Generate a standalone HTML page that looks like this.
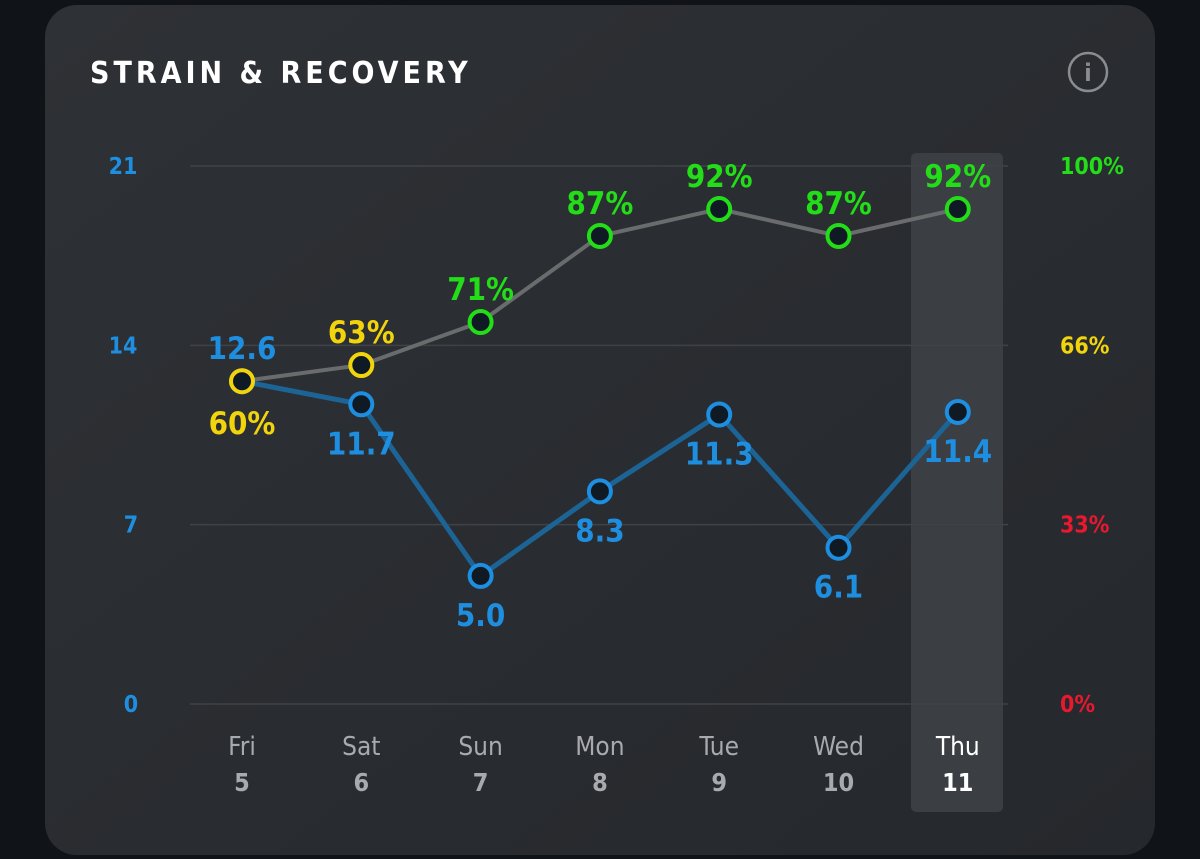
<!DOCTYPE html>
<html><head><meta charset="utf-8"><style>
html,body{margin:0;padding:0;background:#101318;width:1200px;height:859px;overflow:hidden}
svg{display:block}
text{font-family:"DejaVu Sans Condensed","Liberation Sans",sans-serif}
</style></head><body>
<svg width="1200" height="859">
<defs><linearGradient id="cg" x1="0" y1="0" x2="1" y2="1"><stop offset="0" stop-color="#2e3135"/><stop offset="1" stop-color="#25282c"/></linearGradient></defs>
<rect x="45" y="5" width="1110" height="850" rx="32" fill="url(#cg)"/>
<text x="90" y="83" fill="#fff" font-size="30" font-weight="bold" letter-spacing="4" font-family="Liberation Sans">STRAIN &amp; RECOVERY</text>
<g><circle cx="1088" cy="72" r="19" fill="none" stroke="#8a8c90" stroke-width="2.5"/><text x="1088" y="81" fill="#8a8c90" font-size="24" font-weight="bold" text-anchor="middle" font-family="Liberation Serif">i</text></g>
<rect x="911" y="153" width="92" height="659" rx="5" fill="#3b3e43"/>
<g id="grid"></g><g id="axes"></g><g id="lines"></g><g id="marks"></g>
</svg>
<script>
const days=["Fri","Sat","Sun","Mon","Tue","Wed","Thu"];
const dates=["5","6","7","8","9","10","11"];
const strain=[12.6,11.7,5.0,8.3,11.3,6.1,11.4];
const recovery=[60,63,71,87,92,87,92];
const strainTicks=[0,7,14,21];
const recTicks=["0%","33%","66%","100%"];
const NS="http://www.w3.org/2000/svg";
const x0=242,dx=119.3,yTop=166,yBot=704;
const xs=i=>x0+i*dx;
const ys=v=>yBot-(v/21)*(yBot-yTop);
const yr=v=>yBot-(v/100)*(yBot-yTop);
function mk(t,a,p){const e=document.createElementNS(NS,t);for(const k in a)e.setAttribute(k,a[k]);document.getElementById(p).appendChild(e);return e;}
const recColors=["#e8182f","#e8182f","#f2d40c","#22dd18"];
strainTicks.forEach((t,i)=>{
 const y=ys(t);
 const g=mk("line",{x1:190,x2:1008,y1:y,y2:y,stroke:"#3f4246","stroke-width":1.5},"grid");
 
 
 const l=mk("text",{x:t>=10?123:131,y:y+8,fill:"#1e8fe0","font-size":23,"font-weight":"bold","text-anchor":"middle"},"axes");l.textContent=t;
 
 
 const r=mk("text",{x:1060,y:y+8,fill:recColors[i],"font-size":23,"font-weight":"bold"},"axes");r.textContent=recTicks[i];
 
 
});
days.forEach((d,i)=>{
 const c=i===6?"#fff":"#a8aaad";
 const a=mk("text",{x:xs(i),y:755,fill:c,"font-size":26,"text-anchor":"middle","font-family":"Liberation Sans"},"axes");a.textContent=d;
 
 
 const b=mk("text",{x:xs(i),y:791,fill:c,"font-size":25,"font-weight":"bold","text-anchor":"middle","font-family":"Liberation Sans"},"axes");b.textContent=dates[i];
 
 
});
const rl=mk("polyline",{points:recovery.map((v,i)=>xs(i)+","+yr(v)).join(" "),fill:"none",stroke:"#6a6b6d","stroke-width":4},"lines");


const sl=mk("polyline",{points:strain.map((v,i)=>xs(i)+","+ys(v)).join(" "),fill:"none",stroke:"#1d6496","stroke-width":5},"lines");


const rc=v=>v<33?"#e8182f":v<66?"#f2d40c":"#22dd18";
strain.forEach((v,i)=>{
 const y=ys(v);
 const c=mk("circle",{cx:xs(i),cy:y,r:11,fill:"#0f1a24",stroke:"#1e8fe0","stroke-width":4},"marks");
 
 
 const above=i===0;
 const t=mk("text",{x:xs(i),y:above?y-22:y+50,fill:"#1e8fe0","font-size":31,"font-weight":"bold","text-anchor":"middle"},"marks");
 t.textContent=v.toFixed(1);
 
 
});
recovery.forEach((v,i)=>{
 const y=yr(v),col=rc(v);
 const c=mk("circle",{cx:xs(i),cy:y,r:11,fill:"#0f1a24",stroke:col,"stroke-width":4},"marks");
 
 
 const below=i===0;
 const t=mk("text",{x:xs(i),y:below?y+53:y-22,fill:col,"font-size":31,"font-weight":"bold","text-anchor":"middle"},"marks");
 t.textContent=v+"%";
 
 
});
</script>
</body></html>
